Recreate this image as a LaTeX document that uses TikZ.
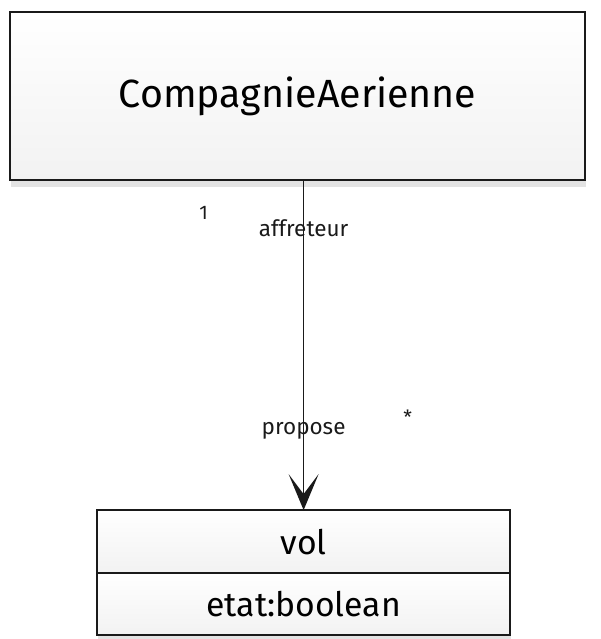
\documentclass[tikz,border=0pt]{standalone}
\usepackage{fontspec}
\setmainfont{Fira Sans}
\usetikzlibrary{arrows.meta,positioning,shadows}
\definecolor{inkblack}{HTML}{1A1A1A}
\definecolor{paper}{HTML}{F2F2F2}

\begin{document}
\begin{tikzpicture}[
    >={Stealth[length=9mm, width=7.5mm, inset=5mm]},
    klass/.style={draw=inkblack, line width=1.2pt, rectangle, inner sep=0pt, outer sep=0pt,
                  top color=white, bottom color=paper,
                  drop shadow={opacity=0.22, shadow xshift=0.3mm, shadow yshift=-1.8mm}},
    assoc/.style={->, line width=1.1pt, inkblack},
    role/.style={font=\fontsize{16}{18}\selectfont, text=inkblack, inner sep=1pt},
    mult/.style={font=\fontsize{14}{16}\selectfont, text=inkblack, inner sep=1pt},
]

    \useasboundingbox (0,0) rectangle (15,-15.975);

    % ============================================================
    %  CLASSES
    % ============================================================
    \node[klass, minimum width=14.375cm, minimum height=4.2cm,
          font=\fontsize{28}{32}\selectfont] (comp) at (7.44,-2.4) {CompagnieAerienne};

    \node[klass, minimum width=10.325cm, minimum height=1.575cm,
          font=\fontsize{24}{28}\selectfont] (vol) at (7.59,-13.54) {vol};
    \node[klass, minimum width=10.325cm, minimum height=1.55cm,
          font=\fontsize{24}{28}\selectfont, below=0pt of vol] (etat) {etat:boolean};

    % ============================================================
    %  ASSOCIATION
    % ============================================================
    \draw[assoc] (vol.north |- comp.south) -- (vol.north)
        node[role, pos=0.145] {affreteur}
        node[mult, pos=0.1, xshift=-2.5cm] {1}
        node[role, pos=0.76] {propose}
        node[mult, pos=0.72, xshift=2.6cm] {*};

\end{tikzpicture}
\end{document}
